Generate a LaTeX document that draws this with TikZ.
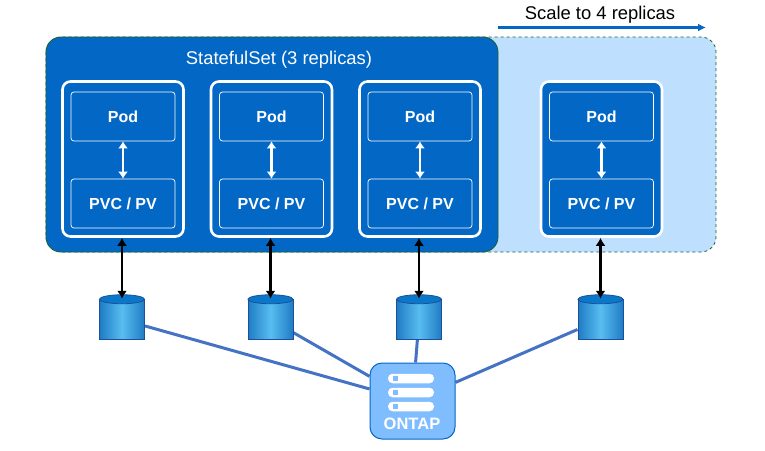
\documentclass[tikz,border=0pt]{standalone}
\usepackage{fontspec}
\setmainfont{Liberation Sans}
\usetikzlibrary{arrows.meta,shapes.geometric,calc,backgrounds}
\definecolor{setblue}{HTML}{0367C5}
\definecolor{setlight}{HTML}{BFDFFF}
\definecolor{setedge}{HTML}{1F6030}
\definecolor{linkblue}{HTML}{4472C4}
\definecolor{ontapblue}{HTML}{80BDFF}
\definecolor{cylmid}{HTML}{58BDF0}
\definecolor{cylside}{HTML}{1F7CC4}
\definecolor{cyledge}{HTML}{1C4F9C}
\definecolor{cyltop}{HTML}{0A78C8}
\tikzset{
	podbox/.style = {draw=white, fill=setblue, line width=2.6pt, rounded corners=8pt, minimum width=121pt, minimum height=155pt},
	innerbox/.style = {draw=white, line width=0.7pt, rounded corners=3pt, minimum width=104pt, minimum height=49pt, text=white, font=\bfseries\fontsize{16}{18}\selectfont},
	disk/.style = {cylinder, shape border rotate=90, aspect=0.2, draw=cyledge, line width=1pt, minimum width=45pt, minimum height=40pt, inner sep=0pt, left color=cylside, right color=cylside, middle color=cylmid},
	bar/.style = {fill=white, rounded corners=4.5pt, minimum width=46pt, minimum height=9.5pt, inner sep=0pt},
	barmark/.style = {fill=ontapblue, minimum size=4.5pt, inner sep=0pt}
}
\begin{document}
\begin{tikzpicture}[x=1pt, y=-1pt]
	\useasboundingbox (0,0) rectangle (765,450);
	% the two frames
	\draw[setedge, fill=setlight, dashed, line width=0.8pt, rounded corners=15pt] (46,37) rectangle (716,252);
	\draw[setedge, fill=setblue, line width=0.8pt, rounded corners=15pt] (46,37) rectangle (498,252);
	\node[text=white, font=\fontsize{18.4}{20}\selectfont] (title) at (279,59.5) {StatefulSet (3 replicas)};
	% scale arrow
	\node[font=\fontsize{18.4}{20}\selectfont] (scale) at (600,14.5) {Scale to 4 replicas};
	\coordinate (scalefrom) at (498,27.5);
	\coordinate (scaleto) at (706,27.5);
	\draw[-{Latex[length=8pt,width=8pt]}, setblue, line width=2.2pt] (scalefrom) -- (scaleto);
	% ontap box
	\node[draw=setblue, fill=ontapblue, line width=1pt, rounded corners=12pt, minimum width=85pt, minimum height=76pt] (ontap) at (412.5,401) {};
	\foreach \i/\y in {1/378.5,2/392.5,3/406.5} {
		\node[bar] (bar\i) at (411,\y) {};
		\node[barmark] (mark\i) at (395.5,\y) {};
	}
	\node[text=white, font=\bfseries\fontsize{16.5}{18}\selectfont] (ontaplabel) at (412,424) {ONTAP};
	% one column for each replica
	\foreach \i/\x in {1/123,2/271.5,3/420,4/601.5} {
		\node[podbox] (outer\i) at (\x,159) {};
		\node[innerbox] (pod\i) at (\x,116.5) {Pod};
		\node[innerbox] (pvc\i) at (\x,203.5) {PVC / PV};
		\draw[{Latex[length=7pt,width=10pt]}-{Latex[length=7pt,width=10pt]}, white, line width=2.2pt] (pod\i) -- (pvc\i);
		\node[disk] (cyl\i) at (\x-1,319.5) {};
		\begin{pgfonlayer}{background}
			\draw[linkblue, line width=3pt] (cyl\i) -- (ontap);
		\end{pgfonlayer}
		\fill[cyltop, draw=cyledge, line width=0.8pt] ($(cyl\i.before top)!0.5!(cyl\i.after top)$) ellipse (22.5 and 4.5);
		\draw[{Latex[length=8pt,width=10pt]}-{Latex[length=8pt,width=10pt]}, black, line width=2.4pt] (cyl\i |- outer\i.south) -- (cyl\i.top);
	}
\end{tikzpicture}
\end{document}
